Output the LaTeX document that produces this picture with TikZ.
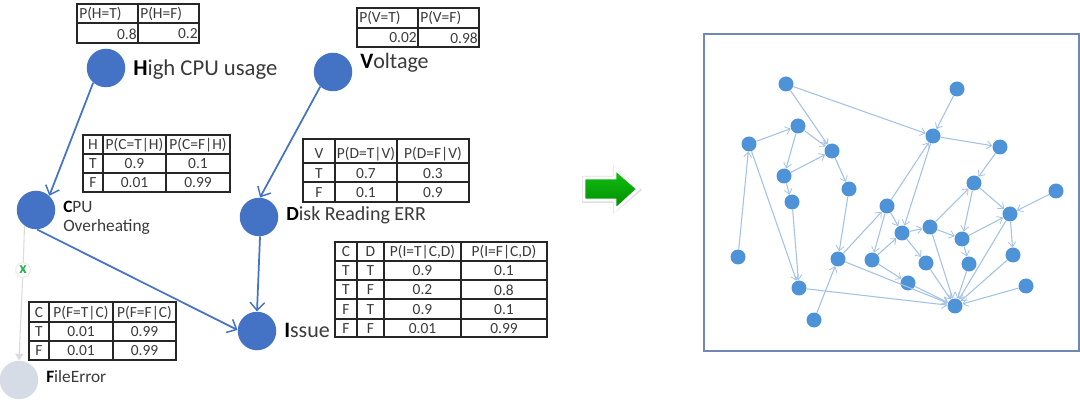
\documentclass[tikz,border=0pt]{standalone}
\usepackage{fontspec}
\setmainfont{Carlito}
\usetikzlibrary{arrows.meta}
\definecolor{bigblue}{HTML}{4472C4}
\definecolor{fadefill}{HTML}{D6DCE5}
\definecolor{smallblue}{HTML}{4E93D8}
\definecolor{smalledge}{HTML}{A3C2E6}
\definecolor{framecol}{HTML}{6F88B5}
\definecolor{txtcol}{HTML}{3A3A3A}
\definecolor{xgreen}{HTML}{22B14C}
\definecolor{arrowtop}{HTML}{12C012}
\definecolor{arrowmid}{HTML}{00B800}
\definecolor{arrowbot}{HTML}{008C00}
\newcounter{cellno}
\newcommand\cell[3]{\stepcounter{cellno}\node[celltxt] (cell\arabic{cellno}) at (#1,#2) {#3};}
\newcommand\cellL[3]{\stepcounter{cellno}\node[celltxt,anchor=west] (cell\arabic{cellno}) at (#1,#2) {#3};}
\newcommand\cellR[3]{\stepcounter{cellno}\node[celltxt,anchor=east] (cell\arabic{cellno}) at (#1,#2) {#3};}
\newcommand\grid[6]{%
  \foreach \gx in {#1} {\draw[gridline] (\gx,#5) -- (\gx,#6);}
  \foreach \gy in {#2} {\draw[gridline] (#3,\gy) -- (#4,\gy);}}
\newcommand\hd[2]{{\color{black}\textbf{#1}}#2}
\tikzset{
  celltxt/.style={font=\fontsize{11.6pt}{12pt}\selectfont,text=txtcol,inner sep=0pt,minimum height=0pt},
  gridline/.style={draw=black!85,line width=0.9pt,line cap=rect},
  bignode/.style={circle,fill=bigblue,draw=none,inner sep=0pt,minimum size=38.5*0.75pt},
  fadenode/.style={circle,fill=fadefill,draw=none,inner sep=0pt,minimum size=38.5*0.75pt},
  bigedge/.style={draw=bigblue,line width=1.3pt,-{Straight Barb[length=6pt,width=11pt,line width=1.1pt]}},
  fadeedge/.style={draw=black!14,line width=0.8pt},
  lab/.style={inner sep=0pt,text=txtcol,anchor=west,align=left},
  sn/.style={circle,fill=smallblue,draw=none,inner sep=0pt,minimum size=15*0.75pt},
  se/.style={draw=smalledge,line width=0.8pt,-{Straight Barb[length=3.6pt,width=6pt,line width=0.6pt]}},
}
\begin{document}
\begin{tikzpicture}[x=0.75pt,y=-0.75pt]
\useasboundingbox (0,0) rectangle (1080,402);
% tables
\grid{77,138,199}{4,23,43}{77}{199}{4}{43}
\cellL{79}{14}{P(H=T)}\cellL{140}{14}{P(H=F)}
\cellR{137}{34}{0.8}\cellR{198}{34}{0.2}
\grid{357,418,479}{8,28,47}{357}{479}{8}{47}
\cellL{359}{18}{P(V=T)}\cellL{420}{18}{P(V=F)}
\cellR{417}{38}{0.02}\cellR{478}{38}{0.98}
\grid{83,103,166,230}{135,154,173,192}{83}{230}{135}{192}
\cell{93}{145}{H}\cell{134.5}{145}{P(C=T|H)}\cell{198}{145}{P(C=F|H)}
\cell{93}{164}{T}\cell{134.5}{164}{0.9}\cell{198}{164}{0.1}
\cell{93}{183}{F}\cell{134.5}{183}{0.01}\cell{198}{183}{0.99}
\grid{303,335,397,469}{139,163,182,202}{303}{469}{139}{202}
\cell{319}{154}{V}\cell{366}{154}{P(D=T|V)}\cell{433}{154}{P(D=F|V)}
\cell{319}{174}{T}\cell{366}{174}{0.7}\cell{433}{174}{0.3}
\cell{319}{193}{F}\cell{366}{193}{0.1}\cell{433}{193}{0.9}
\grid{29,49,113,176}{302,322,341,360}{29}{176}{302}{360}
\cell{39}{313}{C}\cell{81}{313}{P(F=T|C)}\cell{144.5}{313}{P(F=F|C)}
\cell{39}{332}{T}\cell{81}{332}{0.01}\cell{144.5}{332}{0.99}
\cell{39}{351}{F}\cell{81}{351}{0.01}\cell{144.5}{351}{0.99}
\grid{335,357,384,461,547}{242,261,280,299,319,337}{335}{547}{242}{337}
\cell{346}{252}{C}\cell{370.5}{252}{D}\cell{422.5}{252}{P(I=T|C,D)}\cell{504}{252}{P(I=F|C,D)}
\cell{346}{271}{T}\cell{370.5}{271}{T}\cell{422.5}{271}{0.9}\cell{504}{271}{0.1}
\cell{346}{290}{T}\cell{370.5}{290}{F}\cell{422.5}{290}{0.2}\cell{504}{290}{0.8}
\cell{346}{310}{F}\cell{370.5}{310}{T}\cell{422.5}{310}{0.9}\cell{504}{310}{0.1}
\cell{346}{329}{F}\cell{370.5}{329}{F}\cell{422.5}{329}{0.01}\cell{504}{329}{0.99}
% left network
\node[bignode] (H) at (106,68) {};
\node[bignode] (Vn) at (333,72) {};
\node[bignode] (Cn) at (36,210) {};
\node[bignode] (Dn) at (259,217) {};
\node[bignode] (In) at (257,331) {};
\node[fadenode] (Fn) at (19,380) {};
\draw[bigedge] (H.229) -- (Cn.47);
\draw[bigedge] (Vn.229) -- (Dn.87);
\draw[bigedge] (Cn.273) -- (In.177);
\draw[bigedge] (Dn.273) -- (In.90);
\node[circle,fill=white,draw=black!7,line width=1pt,inner sep=0pt,minimum size=11pt,text=xgreen,font=\fontsize{12pt}{12pt}\selectfont\bfseries] (mark) at (23,270) {x};
\draw[fadeedge] (Cn.234) -- (mark);
\draw[fadeedge,-{Triangle[length=5pt,width=6pt]}] (mark) -- (Fn.90);
\node[lab,font=\fontsize{17pt}{19pt}\selectfont] (Hl) at (133,70) {\hd{H}{igh CPU usage}};
\node[lab,font=\fontsize{16.5pt}{19pt}\selectfont] (Vl) at (360,63) {\hd{V}{oltage}};
\node[lab,font=\fontsize{13pt}{14.5pt}\selectfont] (Cl) at (63,218) {\hd{C}{PU}\\Overheating};
\node[lab,font=\fontsize{15pt}{16pt}\selectfont] (Dl) at (286,215) {\hd{D}{isk Reading ERR}};
\node[lab,font=\fontsize{16.5pt}{19pt}\selectfont] (Il) at (284,330) {\hd{I}{ssue}};
\node[lab,font=\fontsize{13pt}{15pt}\selectfont] (Fl) at (46,377) {\hd{F}{ileError}};
% big arrow
\fill[black!12] (582,176) -- (613,176) -- (613,165) -- (642,190) -- (613,214) -- (613,203) -- (582,203) -- cycle;
\draw[white,line width=2.2pt,line join=miter,top color=arrowtop,middle color=arrowmid,bottom color=arrowbot]
  (584,178) -- (615,178) -- (615,169) -- (638,189) -- (615,210) -- (615,200) -- (584,200) -- cycle;
% frame
\draw[framecol,line width=0.9pt] (704,34) rectangle (1079,351);
% right network
\foreach \nm/\x/\y in {a/786/84,b/798/126,c/749/144,d/832/151,e/784/176,f/849/189,g/792/202,
  h/957/89,i/933/136,j/1000/147,k/974/183,l/1056/191,m/887/206,n/738/257,o/838/259,p/872/260,
  q/799/288,r/814/320,s/902/233,t/930/227,u/1010/214,v/962/239,w/926/263,x/969/264,y/1013/255,
  z/908/283,aa/1026/286,bb/955/306}
  {\node[sn] (\nm) at (\x,\y) {};}
\foreach \p/\q in {a/d,a/i,b/d,b/e,c/b,e/d,e/g,d/f,n/c,c/q,g/q,f/o,r/o,o/m,o/bb,q/bb,p/z,z/bb,
  m/p,m/s,p/s,m/i,i/s,h/i,i/j,j/k,k/u,k/v,t/k,l/u,t/v,v/u,s/t,s/w,t/bb,w/bb,v/x,x/bb,u/y,y/bb,u/bb,aa/bb}
  {\draw[se] (\p) -- (\q);}
\end{tikzpicture}
\end{document}
